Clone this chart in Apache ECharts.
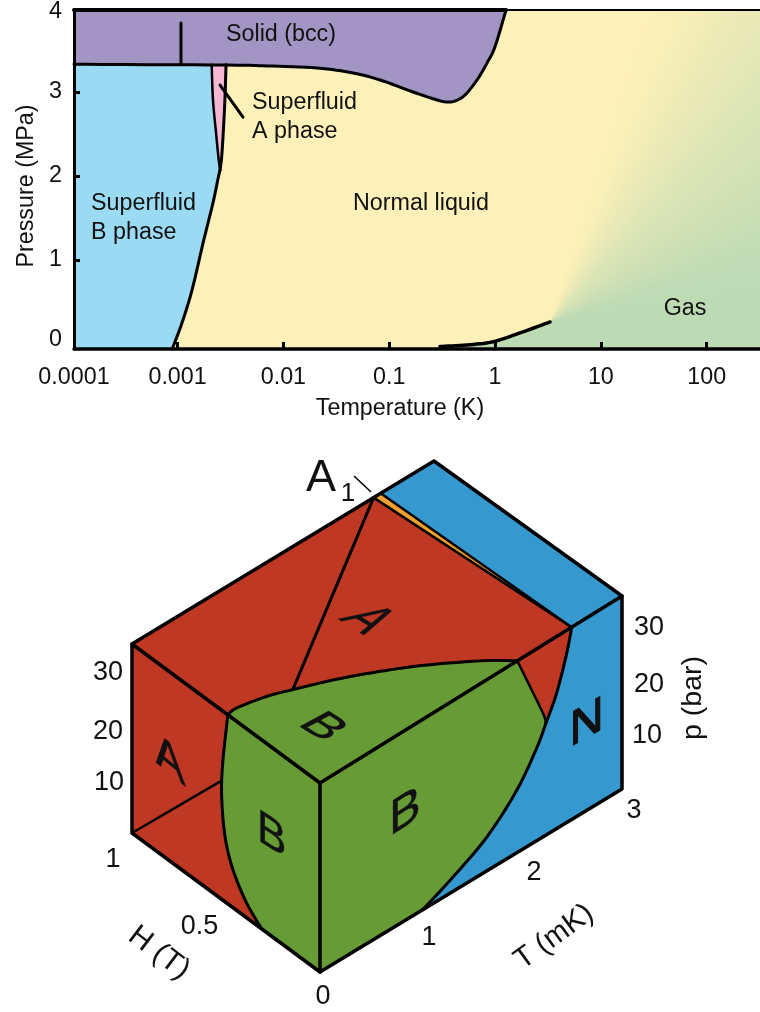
<!DOCTYPE html>
<html><head><meta charset="utf-8">
<style>html,body{margin:0;padding:0;background:#fff}#c{width:760px;height:1012px}</style>
<script src="https://cdn.jsdelivr.net/npm/echarts@6/dist/echarts.min.js"></script>
</head><body><div id="c"></div>
<script>
// ---------- top panel data: [temperature K, pressure MPa] ----------
var tempMin = 1.05e-4, tempMax = 319, pressMin = -0.06, pressMax = 3.976;
var tempTicks = [0.001, 0.01, 0.1, 1, 10, 100];
var tempTickLabels = [1.05e-4, 0.001, 0.01, 0.1, 1, 10, 100];
var pressTicks = [1, 2, 3];
var pressTickLabels = [0.05, 1, 2, 3, 3.96];
var meltingCurve = [[1.27,3.976],[1.0,3.54],[0.84,3.345],[0.676,3.143],[0.52,2.964],[0.419,2.893],[0.352,2.881],[0.283,2.905],[0.168,3.0],[0.0818,3.143],[0.0455,3.226],[0.0208,3.286],[0.0070,3.31],[0.00293,3.32],[1.05e-4,3.33]];
var abBoundary = [[0.00210,3.325],[0.00216,2.905],[0.00231,2.512],[0.00243,2.226],[0.00252,2.07]];
var lambdaUpper = [[0.00287,3.325],[0.00280,2.905],[0.00270,2.512],[0.00261,2.226],[0.00252,2.07]];
var lambdaLower = [[0.00252,2.07],[0.00243,1.988],[0.00216,1.679],[0.00174,1.20],[0.00137,0.643],[0.00110,0.25],[0.000890,-0.06]];
var vaporCurve = [[0.302,-0.03],[0.543,-0.012],[0.957,0.027],[1.72,0.131],[3.31,0.262]];
var bccFccLine = [[0.001077,3.82],[0.001077,3.33]];
var aLeader = [[0.00252,3.083],[0.00415,2.70]];
var gasFanStops = [[0,1],[18,0.95],[26,0.8],[39,0.6],[46,0.52],[56,0.3],[66,0.08],[72,0]];
var regionLabels = [
  ['Solid (bcc)',0.00949,3.68,'center'],
  ['Superfluid\nA phase',0.00505,2.70,'left'],
  ['Superfluid\nB phase',0.000152,1.5,'left'],
  ['Normal liquid',0.1995,1.667,'center'],
  ['Gas',62.5,0.417,'center']
];
// ---------- bottom panel data: T (mK), H (T), p (bar) ----------
var tMax = 3, hMax = 1, pMax = 36;
// top face curve [T,H], p = pMax
var topAB = [[0,0.49],[0.099,0.496],[0.346,0.469],[0.538,0.433],[0.921,0.351],[1.357,0.232],[1.76,0.091],[1.96,0]];
var topA1Low = [[2.40,1],[2.50,0]];
var topA1High = [[2.47,1],[2.50,0]];
var topSplit = [[2.40,1],[0.538,0.433]];
// right face curves [T,p], H = 0
var rightN = [[1.02,0],[1.321,2.7],[1.659,6.4],[1.957,11.8],[2.156,17.5],[2.245,21],[2.351,25.4],[2.451,31.7],[2.5,36]];
var rightAB = [[1.96,36],[2.086,29.7],[2.215,23.2],[2.245,21]];
// left face curves [H,p], T = 0
var leftAB = [[0.49,36],[0.5176,26.1],[0.523,19.5],[0.505,12.4],[0.463,7.2],[0.39,2.8],[0.31,0]];
var leftSplit = [[1,0],[0.523,22.6]];
var xTickText = ['1','2','3'], hTickText = ['0','0.5','1'], pTickText = ['10','20','30'];

var RED='#bf3824', GREEN='#679b36', BLUE='#3598cf', ORANGE='#f2a12e';
var FONT='"Liberation Sans", Arial, sans-serif';
var TOPFONT=23.3;

function project(T,H,p){
  return [320 + 100.67*T - 188*H, 972 - 61*T - 139*H - p*(5.25 + 0.0367*T*(1-H))];
}
function onTop(a){return a.map(function(d){return project(d[0],d[1],pMax);});}
function onRight(a){return a.map(function(d){return project(d[0],0,d[1]);});}
function onLeft(a){return a.map(function(d){return project(0,d[0],d[1]);});}
function rev(a){return a.slice().reverse();}
// drawing-only curve rounding through the read points
function round(pts){
  var out=[],n=pts.length;
  for(var i=0;i<n-1;i++){
    var a=pts[Math.max(i-1,0)],b=pts[i],c=pts[i+1],d=pts[Math.min(i+2,n-1)];
    for(var s=0;s<8;s++){
      var t=s/8,t2=t*t,t3=t2*t;
      out.push([0,1].map(function(k){
        return 0.5*(2*b[k]+(c[k]-a[k])*t+(2*a[k]-5*b[k]+4*c[k]-d[k])*t2+(3*b[k]-a[k]-3*c[k]+d[k])*t3);
      }));
    }
  }
  out.push(pts[n-1].slice());
  return out;
}
var topABc = round(onTop(topAB));
var rightNc = round(onRight(rightN));
// split of the N curve where the A/B line meets it
var rightNlow = round(onRight(rightN.slice(0,6)));
var rightNup = round(onRight(rightN.slice(5)));
var rightABc = round(onRight(rightAB));
var leftABc = round(onLeft(leftAB));

var fills = [
  [BLUE, onTop([[2.47,1],[tMax,1],[tMax,0],[2.5,0]])],
  [ORANGE, onTop([[2.40,1],[2.47,1],[2.5,0]])],
  [RED, onTop([[0,1],[2.40,1],[2.5,0]]).concat(rev(topABc))],
  [GREEN, topABc.concat(onTop([[0,0]]))],
  [GREEN, onRight([[0,0]]).concat(rightNlow, rev(rightABc), onRight([[0,pMax]]))],
  [RED, rightABc.concat(rightNup)],
  [BLUE, rightNc.concat(onRight([[tMax,pMax],[tMax,0]]))],
  [RED, onLeft([[hMax,0],[hMax,pMax]]).concat(leftABc)],
  [GREEN, leftABc.concat(onLeft([[0,0],[0,pMax]]))]
];
var strokes = [
  [onTop(topA1Low),2.5],[onTop(topA1High),2.5],[onTop(topSplit),3],[topABc,3],
  [rightNc,3],[rightABc,2.5],
  [leftABc,3],[onLeft(leftSplit),2.5],
  [onTop([[0,hMax],[tMax,hMax],[tMax,0],[0,0],[0,hMax]]),3.5],
  [onRight([[0,pMax],[0,0],[tMax,0],[tMax,pMax]]),3.5],
  [onLeft([[0,0],[hMax,0],[hMax,pMax]]),3.5]
];
function T(text,x,y,size,rot){return {text:text,x:x,y:y,size:size,rot:rot||0};}
var boxTexts = [
  T(pTickText[2],649,628,27),T(pTickText[1],649,685,27),T(pTickText[0],647,736,27),
  T(pTickText[2],108,673,27),T(pTickText[1],108,732,27),T(pTickText[0],109,783,27),
  T(hTickText[2],113,860,27),T(hTickText[1],199.5,927,27),T(hTickText[0],323,997,27),
  T(xTickText[0],429,938,27),T(xTickText[1],534,873,27),T(xTickText[2],634,811,27),
  T('p (bar)',693,698,28.5,Math.PI/2),
  T('H (T)',159,953,30,-0.65),
  T('T (mK)',554,937,29.5,0.63),
  T('A',321,479,45),T('1',348,494,26)
];
// letters lying on the faces: text, centre, em vectors u (text right), v (text down), outline
var faceLetters = [
  ['A',366.5,620,[39,24],[-56,25],0.3],
  ['A',169.3,761,[44,36],[5.6,49.4],0.7],
  ['B',271.7,836,[44,28.5],[0,46],0.4],
  ['B',405,813,[47,-30],[0,49],0.4],
  ['B',322,727,[42,27],[-41.9,22.3],0.4],
  ['N',586.7,724,[46.8,-26],[0,49],1]
];
var leaderA1 = [[354,476],[371,492]];

function mixColor(m){
  var a=[253,240,184], b=[188,218,180];
  return 'rgb('+a.map(function(c,i){return Math.round(c+(b[i]-c)*m);}).join(',')+')';
}
function fanMix(deg){
  for(var i=1;i<gasFanStops.length;i++){
    if(deg<=gasFanStops[i][0]){
      var s=gasFanStops[i-1], e=gasFanStops[i];
      return s[1]+(e[1]-s[1])*(deg-s[0])/(e[0]-s[0]);
    }
  }
  return 0;
}
var fanSteps=[]; for(var d=72;d>=0;d-=1) fanSteps.push([tempMax,pressMax,d]);

// pieces: arrays of data points; a piece of 3 or more points is a rounded curve
function pixels(api,piece){
  var px=piece.map(function(p){return api.coord(p);});
  return px.length>2?round(px):px;
}
function polySeries(name,color,pieces){
  return {type:'custom',name:name,coordinateSystem:'cartesian2d',xAxisIndex:0,yAxisIndex:0,clip:true,z:3,silent:true,
    data:[[1,1]],
    renderItem:function(params,api){
      var pts=[];
      pieces.forEach(function(piece){pts=pts.concat(pixels(api,piece));});
      return {type:'polygon',shape:{points:pts},style:{fill:color}};
    }};
}
function curveSeries(name,data,w){
  return {type:'custom',name:name,coordinateSystem:'cartesian2d',xAxisIndex:0,yAxisIndex:0,clip:false,z:5,silent:true,
    data:[[1,1]],
    renderItem:function(params,api){
      return {type:'polyline',shape:{points:pixels(api,data)},style:{fill:null,stroke:'#000',lineWidth:w,lineCap:'round',lineJoin:'round'}};
    }};
}

var option = {
  animation:false,
  backgroundColor:'#fff',
  textStyle:{fontFamily:FONT},
  grid:[
    {left:74,top:10,width:686,height:339,show:true,backgroundColor:'#fdf0b8',borderWidth:0,outerBoundsMode:'none',containLabel:false},
    {left:0,top:0,width:760,height:1012,show:false,outerBoundsMode:'none',containLabel:false}
  ],
  xAxis:[
    {type:'log',gridIndex:0,min:tempMin,max:tempMax,z:8,
     name:'Temperature (K)',nameLocation:'middle',nameGap:48,
     nameTextStyle:{color:'#111',fontSize:TOPFONT,fontFamily:FONT,padding:[0,34,0,0]},
     axisLine:{onZero:false,lineStyle:{color:'#000',width:3.5}},
     axisTick:{show:true,inside:true,length:7,customValues:tempTicks,lineStyle:{color:'#000',width:3}},
     axisLabel:{show:true,margin:17,color:'#111',fontSize:TOPFONT,fontFamily:FONT,customValues:tempTickLabels,showMinLabel:true,showMaxLabel:true,hideOverlap:false,
       formatter:function(v){return String(Number(Number(v).toPrecision(1)));}},
     minorTick:{show:false},splitLine:{show:false}},
    {type:'value',gridIndex:1,min:0,max:760,show:false}
  ],
  yAxis:[
    {type:'value',gridIndex:0,min:pressMin,max:pressMax,z:8,
     name:'Pressure (MPa)',nameLocation:'middle',nameGap:35,
     nameTextStyle:{color:'#111',fontSize:TOPFONT,fontFamily:FONT,padding:[0,13,0,0]},
     axisLine:{onZero:false,show:true,lineStyle:{color:'#000',width:3}},
     axisTick:{show:true,inside:true,length:6,customValues:pressTicks,lineStyle:{color:'#000',width:3}},
     axisLabel:{show:true,margin:12,color:'#111',fontSize:TOPFONT,fontFamily:FONT,customValues:pressTickLabels,showMinLabel:true,showMaxLabel:true,
       formatter:function(v){return String(Math.round(v));}},
     splitLine:{show:false}},
    {type:'value',gridIndex:1,min:0,max:1012,inverse:true,show:false}
  ],
  series:[
    {type:'custom',name:'Gas fade',coordinateSystem:'cartesian2d',xAxisIndex:0,yAxisIndex:0,clip:true,z:2,silent:true,
     data:fanSteps,
     renderItem:function(params,api){
       var deg=api.value(2), c=api.coord(vaporCurve[vaporCurve.length-1]), r=900;
       var a0=-2*Math.PI/180, a1=(deg+1)*Math.PI/180;
       return {type:'polygon',shape:{points:[c,[c[0]+r*Math.cos(a0),c[1]-r*Math.sin(a0)],[c[0]+r*Math.cos(a1),c[1]-r*Math.sin(a1)]]},
               style:{fill:mixColor(fanMix(deg))}};
     }},
    polySeries('Gas',mixColor(1),[vaporCurve,[[tempMax,0.262]],[[tempMax,pressMin]],[[0.302,pressMin]]]),
    polySeries('Solid (bcc)','#a295c4',[[[1.05e-4,pressMax]],meltingCurve]),
    polySeries('Superfluid B phase','#9adaf2',[[[1.05e-4,3.33]],abBoundary,lambdaLower,[[1.05e-4,pressMin]]]),
    polySeries('Superfluid A phase','#f4b6d3',[abBoundary,rev(lambdaUpper)]),
    curveSeries('Melting',meltingCurve,3),
    curveSeries('A-B',abBoundary,2.5),
    curveSeries('Lambda upper',lambdaUpper,3),
    curveSeries('Lambda lower',lambdaLower,3),
    curveSeries('Vapor',vaporCurve,3.5),
    curveSeries('bcc',bccFccLine,3),
    curveSeries('A leader',aLeader,3),
    curveSeries('Top thick',[[1.05e-4,pressMax],[1.27,pressMax]],4),
    curveSeries('Top thin',[[1.27,pressMax],[tempMax,pressMax]],2),
    {type:'custom',name:'Region labels',coordinateSystem:'cartesian2d',xAxisIndex:0,yAxisIndex:0,clip:false,z:6,silent:true,
     data:regionLabels.map(function(r){return [r[1],r[2]];}),
     renderItem:function(params,api){
       var r=regionLabels[params.dataIndex], c=api.coord([r[1],r[2]]);
       return {type:'text',x:c[0],y:c[1],style:{text:r[0],fill:'#111',fontSize:TOPFONT,fontFamily:FONT,align:r[3],verticalAlign:'middle',lineHeight:29}};
     }},
    {type:'custom',name:'3D box',coordinateSystem:'cartesian2d',xAxisIndex:1,yAxisIndex:1,clip:false,z:3,silent:true,
     data:[[0,0]],
     renderItem:function(params,api){
       var kids=[];
       var co=function(p){return api.coord(p);};
       fills.forEach(function(f){
         kids.push({type:'polygon',shape:{points:f[1].map(co)},style:{fill:f[0],stroke:f[0],lineWidth:0.5}});
       });
       strokes.forEach(function(s){
         kids.push({type:'polyline',shape:{points:s[0].map(co)},style:{fill:null,stroke:'#000',lineWidth:s[1],lineJoin:'round',lineCap:'round'}});
       });
       kids.push({type:'polyline',shape:{points:leaderA1.map(co)},style:{fill:null,stroke:'#000',lineWidth:1.5}});
       boxTexts.forEach(function(t){
         var c=api.coord([t.x,t.y]);
         kids.push({type:'text',x:c[0],y:c[1],rotation:t.rot,style:{text:t.text,fill:'#111',fontSize:t.size,fontFamily:FONT,align:'center',verticalAlign:'middle'}});
       });
       faceLetters.forEach(function(l){
         var F=40,u=l[3],v=l[4],c=api.coord([l[1],l[2]]);
         var phi=Math.atan2(u[1],u[0]);
         var vx=v[0]*Math.cos(phi)+v[1]*Math.sin(phi), vy=-v[0]*Math.sin(phi)+v[1]*Math.cos(phi);
         kids.push({type:'text',x:c[0],y:c[1],rotation:-phi,scaleX:Math.hypot(u[0],u[1])/F,scaleY:vy/F,skewX:Math.atan(vx/vy),
           style:{text:l[0],fill:'#111',stroke:'#111',lineWidth:l[5],fontSize:F,fontFamily:FONT,align:'center',verticalAlign:'middle'}});
       });
       return {type:'group',children:kids};
     }}
  ]
};
var chart = echarts.init(document.getElementById('c'),null,{renderer:'canvas'});
chart.setOption(option);
</script></body></html>
